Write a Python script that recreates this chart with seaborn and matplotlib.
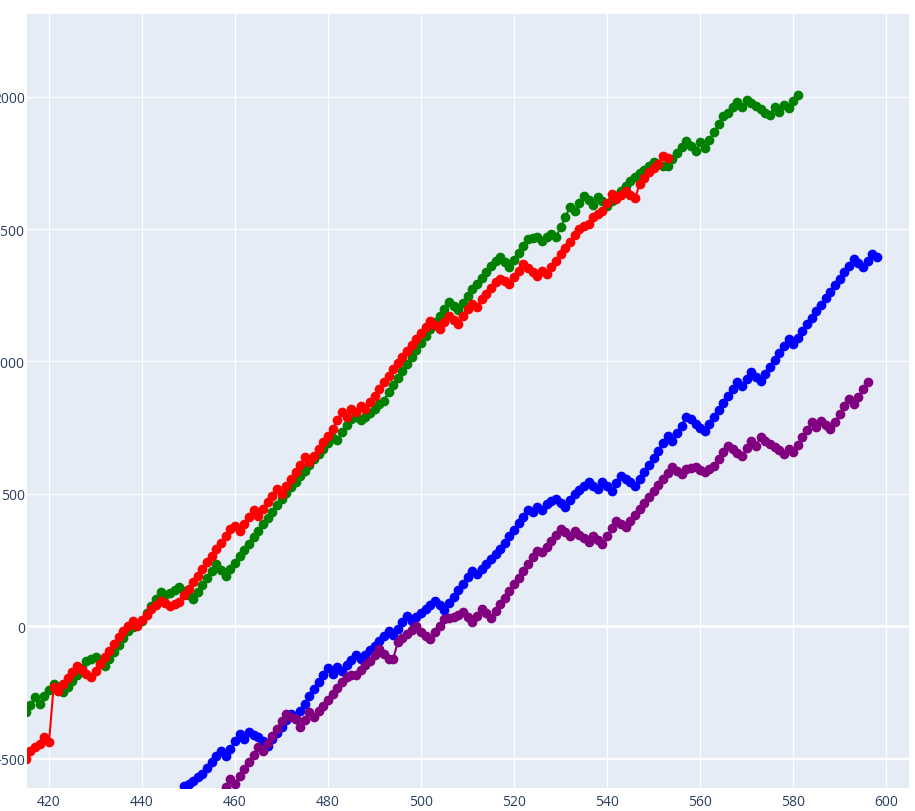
import numpy as np
import pandas as pd
import seaborn as sns
import matplotlib
matplotlib.use('Agg')
import matplotlib.pyplot as plt

# series values, one point per x step
green_x0 = 415
green_y = [
    -325, -296, -267, -293, -262, -240, -218, -234, -249, -228,
    -207, -186, -158, -130, -123, -117, -133, -149, -123, -96,
    -70, -43, -17, -4, 8, 21, 48, 75, 101, 128,
    116, 126, 137, 147, 132, 118, 103, 130, 156, 182,
    209, 235, 213, 191, 215, 239, 264, 288, 312, 336,
    360, 385, 409, 433, 457, 481, 502, 524, 545, 566,
    587, 609, 630, 651, 670, 690, 712, 703, 735, 760,
    783, 790, 778, 789, 806, 822, 838, 852, 884, 911,
    937, 964, 990, 1017, 1044, 1070, 1097, 1122, 1147, 1173,
    1198, 1223, 1209, 1195, 1222, 1248, 1274, 1294, 1316, 1337,
    1359, 1380, 1393, 1374, 1356, 1383, 1409, 1436, 1462, 1465,
    1469, 1456, 1470, 1481, 1469, 1507, 1544, 1582, 1569, 1598,
    1626, 1608, 1591, 1620, 1604, 1588, 1607, 1626, 1645, 1664,
    1683, 1697, 1710, 1724, 1738, 1752, 1745, 1738, 1739, 1765,
    1787, 1810, 1834, 1815, 1796, 1828, 1805, 1836, 1866, 1897,
    1928, 1940, 1962, 1979, 1960, 1987, 1975, 1965, 1955, 1940,
    1931, 1960, 1941, 1968, 1956, 1982, 2007,
]

red_x0 = 415
red_y = [
    -501, -470, -457, -444, -419, -436, -228, -243, -220, -196,
    -172, -149, -164, -179, -193, -168, -143, -118, -92, -67,
    -42, -17, 2, 21, 0, 22, 43, 65, 81, 97,
    88, 78, 85, 91, 116, 141, 166, 191, 216, 241,
    266, 291, 316, 341, 366, 380, 361, 386, 412, 437,
    418, 443, 468, 493, 518, 500, 528, 555, 583, 610,
    638, 619, 644, 669, 695, 720, 745, 777, 808, 789,
    820, 808, 833, 820, 845, 870, 896, 921, 946, 970,
    993, 1016, 1039, 1062, 1085, 1108, 1131, 1154, 1138, 1123,
    1148, 1173, 1157, 1141, 1170, 1198, 1215, 1205, 1235, 1256,
    1278, 1299, 1310, 1305, 1293, 1318, 1343, 1368, 1353, 1339,
    1324, 1340, 1330, 1356, 1380, 1405, 1428, 1452, 1476, 1500,
    1510, 1519, 1544, 1556, 1569, 1600, 1632, 1614, 1630, 1645,
    1630, 1616, 1670, 1692, 1714, 1730, 1746, 1777, 1767,
]

blue_x0 = 447
blue_y = [
    -665, -633, -602, -595, -583, -570, -558, -536, -514, -492,
    -470, -489, -462, -434, -407, -426, -400, -410, -419, -435,
    -451, -427, -403, -379, -355, -331, -350, -319, -292, -265,
    -239, -212, -185, -158, -180, -155, -168, -148, -128, -108,
    -124, -107, -90, -73, -54, -36, -17, -35, -10, 15,
    40, 18, 34, 50, 65, 81, 97, 80, 62, 87,
    112, 136, 161, 186, 210, 197, 215, 234, 254, 273,
    292, 316, 340, 365, 389, 413, 437, 430, 449, 437,
    462, 471, 481, 465, 449, 475, 500, 515, 530, 544,
    531, 518, 544, 528, 512, 540, 569, 556, 543, 531,
    557, 584, 610, 637, 663, 692, 720, 701, 729, 757,
    789, 783, 765, 750, 739, 765, 791, 817, 843, 869,
    895, 921, 909, 934, 959, 943, 927, 953, 980, 1006,
    1032, 1059, 1085, 1066, 1090, 1115, 1140, 1164, 1189, 1214,
    1238, 1263, 1288, 1313, 1337, 1362, 1387, 1372, 1356, 1381,
    1406, 1393,
]

purple_x0 = 457
purple_y = [
    -640, -608, -577, -595, -567, -540, -512, -485, -457, -470,
    -442, -414, -387, -359, -331, -341, -350, -381, -355, -325,
    -344, -322, -300, -278, -256, -234, -212, -190, -186, -183,
    -165, -148, -130, -108, -86, -105, -123, -123, -60, -44,
    -29, -13, 2, -23, -38, -48, -23, 2, 28, 31,
    34, 44, 53, 34, 15, 40, 65, 48, 31, 56,
    82, 107, 133, 158, 183, 209, 234, 260, 285, 279,
    301, 323, 345, 367, 355, 342, 361, 346, 332, 317,
    342, 326, 311, 340, 370, 399, 387, 374, 397, 419,
    442, 464, 487, 510, 532, 555, 577, 600, 588, 575,
    594, 597, 600, 590, 581, 594, 606, 631, 657, 682,
    669, 656, 644, 672, 701, 682, 714, 701, 689, 676,
    664, 651, 669, 657, 685, 713, 742, 770, 751, 776,
    760, 745, 773, 801, 830, 858, 839, 866, 894, 921,
]

series = [
    ("green", green_x0, green_y, "#008000"),
    ("red", red_x0, red_y, "#ff0000"),
    ("blue", blue_x0, blue_y, "#0000ff"),
    ("purple", purple_x0, purple_y, "#800080"),
]

x_ticks = [420, 440, 460, 480, 500, 520, 540, 560, 580, 600]
y_ticks = [-500, 0, 500, 1000, 1500, 2000]

sns.set_theme(style="darkgrid", rc={
    "axes.facecolor": "#e5ecf6",
    "grid.color": "white",
    "grid.linewidth": 0.9,
    "xtick.color": "#2a3f5f",
    "ytick.color": "#2a3f5f",
})
plt.rcParams['font.family'] = ['Open Sans', 'DejaVu Sans']

fig = plt.figure(figsize=(9.15, 8.12), dpi=100)
ax = fig.add_axes([27 / 915, 1 - 789 / 812, (909 - 27) / 915, (789 - 15) / 812])

for name, x0, ys, col in series:
    df = pd.DataFrame({"x": np.arange(x0, x0 + len(ys)), "y": ys})
    sns.lineplot(data=df, x="x", y="y", ax=ax, color=col, linewidth=1.5,
                 marker="o", markersize=7, markeredgewidth=0, sort=False,
                 zorder=3)

# plotly-like zero line
ax.axhline(0, color="white", linewidth=2, zorder=1)
ax.axhline(-500, color="white", linewidth=1.6, zorder=1)

ax.set_xlim(415.27, 604.9)
ax.set_ylim(-611, 2312)
ax.set_xticks(x_ticks)
ax.set_yticks(y_ticks)
ax.set_xlabel("")
ax.set_ylabel("")
ax.tick_params(axis="both", length=0, labelsize=10, labelcolor="#2a3f5f")
ax.tick_params(axis="x", pad=4)
ax.tick_params(axis="y", pad=1.5)
for s in ax.spines.values():
    s.set_visible(False)

fig.savefig("out.png", dpi=100)
